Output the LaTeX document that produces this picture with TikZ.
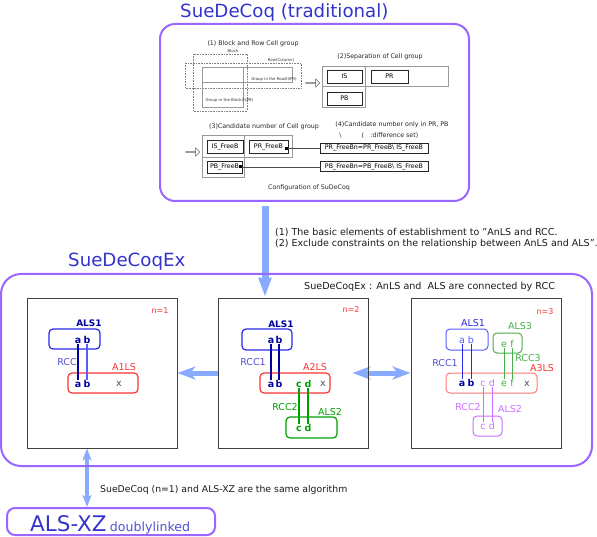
\documentclass[tikz,border=0pt]{standalone}
\usepackage{fontspec}
\setmainfont{DejaVu Sans}
\usetikzlibrary{arrows.meta,shapes.arrows,backgrounds}

\definecolor{tituloazul}{RGB}{51,51,204}
\definecolor{moldura}{RGB}{153,102,255}
\definecolor{setaazul}{RGB}{136,170,255}
\definecolor{azulals}{RGB}{40,40,230}
\definecolor{azulesc}{RGB}{0,0,160}
\definecolor{azulclaro}{RGB}{90,90,255}
\definecolor{azulrcc}{RGB}{80,80,210}
\definecolor{vermelho}{RGB}{255,50,50}
\definecolor{rosado}{RGB}{255,120,120}
\definecolor{verde}{RGB}{0,160,0}
\definecolor{verdeclaro}{RGB}{70,175,70}
\definecolor{violeta}{RGB}{204,110,255}
\definecolor{cinzax}{RGB}{80,80,80}

\newcommand{\fsz}[1]{\fontsize{#1}{#1}\selectfont}

\begin{document}
\begin{tikzpicture}[x=1pt, y=-1pt,
    titulo/.style={inner sep=0pt, text=tituloazul, font=\fsz{18.2}},
    moldurabox/.style={draw=moldura, line width=2pt, rounded corners=#1, inner sep=0pt},
    painel/.style={draw=black!75, line width=0.8pt, minimum width=150pt, minimum height=150pt, inner sep=0pt},
    lsbox/.style={rounded corners=4pt, line width=1.2pt, inner sep=0pt},
    letra/.style={inner sep=0.5pt, text height=6.5pt, text depth=0pt, font=\fsz{9.5}},
    rotulo/.style={inner sep=0pt, font=\fsz{9.5}},
    texto/.style={inner sep=0pt, font=\fsz{9.4}, text=black!90},
    textopeq/.style={inner sep=0pt, font=\fsz{6.3}, text=black!85},
    minusculo/.style={inner sep=0pt, font=\fsz{3.9}, text=black!80},
    celula/.style={draw=black!85, line width=0.7pt, fill=white, inner sep=0pt, font=\fsz{6.3}},
    grupo/.style={draw=black!40, line width=0.7pt},
    pontilhado/.style={draw=black!50, densely dotted, line width=0.6pt},
    setaoca/.style={single arrow, draw=black!60, line width=0.5pt, minimum height=14pt, minimum width=8pt, single arrow head extend=2pt, inner sep=0pt},
    setagrande/.style={setaazul, line width=7pt, -{Triangle[length=20pt,width=12pt]}},
    setadupla/.style={setaazul, line width=5pt, {Stealth[length=18pt,width=13pt,inset=5pt]}-{Stealth[length=18pt,width=13pt,inset=5pt]}},
    setasimples/.style={setaazul, line width=5pt, -{Stealth[length=18pt,width=13pt,inset=5pt]}},
    setavert/.style={setaazul, line width=4pt, {Stealth[length=12pt,width=9pt,inset=3pt]}-{Stealth[length=12pt,width=9pt,inset=3pt]}}]
    \useasboundingbox (0,0) rectangle (597,537);

    % Título superior
    \node[titulo, anchor=base west] (tit1) at (180,17.5) {SueDeCoq (traditional)};
    \node[moldurabox=15pt, minimum width=309pt, minimum height=177pt] (trad) at (314.5,112.5) {};

    % (1) Grupos de células
    \node[textopeq] (t1) at (253,44) {(1) Block and Row Cell group};
    \node[minusculo] (tblk) at (233,51) {Block};
    \draw[pontilhado] (193,54) rectangle (247,111);
    \draw[pontilhado] (185,63) rectangle (301,88);
    \node[minusculo] (trow) at (281,60) {Row(Column)};
    \draw[grupo] (202,67) rectangle (292,82);
    \draw[grupo] (202,67) rectangle (243,107);
    \node[minusculo] (tispr) at (274,79) {Group in the Row(ISPR)};
    \node[minusculo] (tispb) at (229.5,100) {Group in the Block(ISPB)};
    \node[setaoca] (s1) at (312.5,83) {};

    % (2) Separação
    \node[textopeq] (t2) at (380,57) {(2)Separation of Cell group};
    \draw[grupo] (322,66) rectangle (448,86);
    \draw[grupo] (322,66) rectangle (365,107);
    \node[celula, minimum width=35pt, minimum height=13pt] (is) at (344.5,76.5) {IS};
    \node[celula, minimum width=37pt, minimum height=13pt] (pr) at (389.5,76.5) {PR};
    \node[celula, minimum width=35pt, minimum height=13pt] (pb) at (344.5,98.5) {PB};

    % (3) e (4) Candidatos
    \node[textopeq] (t3) at (264,127) {(3)Candidate number of Cell group};
    \node[textopeq] (t4) at (392,125) {(4)Candidate number only in PR, PB};
    \node[textopeq] (t4b) at (390,136) {(\quad:difference set)};
    \node[textopeq] (barra) at (340.5,135.5) {\textbackslash};
    \node[setaoca] (s2) at (192.5,152) {};
    \draw[grupo] (202,135) rectangle (292,157);
    \draw[grupo] (202,135) rectangle (244,177);
    \node[celula, minimum width=36pt, minimum height=13pt] (isf) at (225,146.5) {IS\_FreeB};
    \node[celula, minimum width=39pt, minimum height=13pt] (prf) at (268.5,146.5) {PR\_FreeB};
    \node[celula, minimum width=35pt, minimum height=12pt] (pbf) at (224.5,167) {PB\_FreeB};
    \node[celula, minimum width=108pt, minimum height=10pt] (prn) at (374,148) {PR\_FreeBn=PR\_FreeB\textbackslash\ IS\_FreeB};
    \node[celula, minimum width=108pt, minimum height=10pt] (pbn) at (374,166.5) {PB\_FreeBn=PB\_FreeB\textbackslash\ IS\_FreeB};
    \node[fill=black, minimum size=3pt, inner sep=0pt, anchor=east] (prq) at ([yshift=-2pt]prf.east) {};
    \node[fill=black, minimum size=3pt, inner sep=0pt, anchor=east] (pbq) at (pbf.east) {};
    \draw[black!70, line width=0.6pt] (prq.east) -- (prq.east -| prn.west);
    \draw[black!70, line width=0.6pt] (pbq.east) -- (pbq.east -| pbn.west);
    \node[textopeq] (conf) at (309,188) {Configuration of SuDeCoq};

    % Texto da seta
    \node[texto, anchor=west, align=left, font=\fontsize{9.5}{11}\selectfont] (txt1) at (275,238.5) {(1) The basic elements of establishment to ”AnLS and RCC.\\(2) Exclude constraints on the relationship between AnLS and ALS”.};

    % SueDeCoqEx
    \node[titulo, anchor=base west] (tit2) at (68,267) {SueDeCoqEx};
    \node[moldurabox=20pt, minimum width=591pt, minimum height=192pt] (ex) at (296.5,370) {};
    \node[texto, anchor=west, font=\fsz{9.6}] (txt2) at (304,287) {SueDeCoqEx : AnLS and~ ALS are connected by RCC};
    \node[painel] (p1) at (102,373) {};
    \node[painel] (p2) at (293,373) {};
    \node[painel] (p3) at (486,373) {};

    % Painel n=1
    \node[rotulo, text=vermelho, font=\fsz{8}] (n1) at (160,310.5) {n=1};
    \node[rotulo, text=azulesc, font=\bfseries\fsz{9}] (p1l1) at (89,323) {ALS1};
    \node[lsbox, draw=azulals, minimum width=51pt, minimum height=20pt] (p1b1) at (74.5,339) {};
    \node[letra, text=azulesc, font=\bfseries\fsz{9.5}] (p1ua) at (78,340) {a};
    \node[letra, text=azulesc, font=\bfseries\fsz{9.5}] (p1ub) at (87,340) {b};
    \node[rotulo, text=azulrcc] (p1rcc) at (67,362) {RCC};
    \node[rotulo, text=vermelho] (p1l2) at (124,367) {A1LS};
    \node[lsbox, draw=vermelho, minimum width=70pt, minimum height=20pt] (p1b2) at (103,383) {};
    \node[letra, text=azulesc, font=\bfseries\fsz{9.5}] (p1la) at (78,384) {a};
    \node[letra, text=azulesc, font=\bfseries\fsz{9.5}] (p1lb) at (87,384) {b};
    \node[letra, text=cinzax] (p1lx) at (119,383) {x};
    \draw[azulesc, line width=1.3pt] (p1ua) -- (p1la);
    \draw[azulclaro, line width=2pt] (p1ub) -- (p1lb);

    % Painel n=2
    \node[rotulo, text=vermelho, font=\fsz{8}] (n2) at (351,310) {n=2};
    \node[rotulo, text=azulesc, font=\bfseries\fsz{9}] (p2l1) at (281,324) {ALS1};
    \node[lsbox, draw=azulals, minimum width=50pt, minimum height=21pt] (p2b1) at (267,339.5) {};
    \node[letra, text=azulesc, font=\bfseries\fsz{9.5}] (p2ua) at (271,340) {a};
    \node[letra, text=azulesc, font=\bfseries\fsz{9.5}] (p2ub) at (279,340) {b};
    \node[rotulo, text=azulrcc] (p2rcc1) at (253,362) {RCC1};
    \node[rotulo, text=vermelho] (p2l2) at (315,367) {A2LS};
    \node[lsbox, draw=vermelho, minimum width=70pt, minimum height=20pt] (p2b2) at (295,383) {};
    \node[letra, text=azulesc, font=\bfseries\fsz{9.5}] (p2la) at (271,384) {a};
    \node[letra, text=azulesc, font=\bfseries\fsz{9.5}] (p2lb) at (279,384) {b};
    \node[letra, text=verde, font=\bfseries\fsz{9.5}] (p2lc) at (299,384) {c};
    \node[letra, text=verde, font=\bfseries\fsz{9.5}] (p2ld) at (308,384) {d};
    \node[letra, text=cinzax] (p2lx) at (323,383) {x};
    \node[rotulo, text=verde] (p2rcc2) at (285,407) {RCC2};
    \node[rotulo, text=verde] (p2l3) at (330,412) {ALS2};
    \node[lsbox, draw=verde, minimum width=51pt, minimum height=21pt] (p2b3) at (311.5,427.5) {};
    \node[letra, text=verde, font=\bfseries\fsz{9.5}] (p2dc) at (299,428) {c};
    \node[letra, text=verde, font=\bfseries\fsz{9.5}] (p2dd) at (308,428) {d};
    \draw[azulesc, line width=1.6pt] (p2ua) -- (p2la);
    \draw[azulesc, line width=1.6pt] (p2ub) -- (p2lb);
    \draw[verde, line width=1.6pt] (p2lc) -- (p2dc);
    \draw[verde, line width=1.6pt] (p2ld) -- (p2dd);

    % Painel n=3
    \node[rotulo, text=vermelho, font=\fsz{8}] (n3) at (545,312) {n=3};
    \node[rotulo, text=azulals] (p3l1) at (473,323) {ALS1};
    \node[lsbox, draw=azulclaro, line width=1pt, minimum width=42pt, minimum height=21pt] (p3b1) at (467,339.5) {};
    \node[letra, text=azulclaro] (p3ua) at (462,340) {a};
    \node[letra, text=azulclaro] (p3ub) at (471,340) {b};
    \node[rotulo, text=verdeclaro] (p3l3) at (520,326) {ALS3};
    \node[lsbox, draw=verdeclaro, line width=1pt, minimum width=29pt, minimum height=20pt] (p3b3) at (507.5,343) {};
    \node[letra, text=verdeclaro] (p3ue) at (504,344) {e};
    \node[letra, text=verdeclaro] (p3uf) at (512,344) {f};
    \node[rotulo, text=azulrcc] (p3rcc1) at (445,363) {RCC1};
    \node[rotulo, text=verdeclaro] (p3rcc3) at (528,358) {RCC3};
    \node[rotulo, text=vermelho] (p3l2) at (542,368) {A3LS};
    \node[lsbox, draw=rosado, line width=1pt, minimum width=91pt, minimum height=20pt] (p3b2) at (491.5,383) {};
    \node[letra, text=azulesc, font=\bfseries\fsz{9.5}] (p3la) at (462,383) {a};
    \node[letra, text=azulesc, font=\bfseries\fsz{9.5}] (p3lb) at (471,383) {b};
    \node[letra, text=violeta] (p3lc) at (483,383) {c};
    \node[letra, text=violeta] (p3ld) at (492,383) {d};
    \node[letra, text=verdeclaro] (p3le) at (504,383) {e};
    \node[letra, text=verdeclaro] (p3lf) at (512,383) {f};
    \node[letra, text=cinzax] (p3lx) at (527,383) {x};
    \node[rotulo, text=violeta] (p3rcc2) at (468,407) {RCC2};
    \node[rotulo, text=violeta] (p3l4) at (510,409) {ALS2};
    \node[lsbox, draw=violeta, line width=1pt, minimum width=29pt, minimum height=20pt] (p3b4) at (487.5,426) {};
    \node[letra, text=violeta] (p3dc) at (483,426) {c};
    \node[letra, text=violeta] (p3dd) at (492,426) {d};
    \draw[azulals, line width=1pt] (p3ua) -- (p3la);
    \draw[azulals, line width=1pt] (p3ub) -- (p3lb);
    \draw[verdeclaro, line width=1pt] (p3ue) -- (p3le);
    \draw[verdeclaro, line width=1pt] (p3uf) -- (p3lf);
    \draw[violeta, line width=1pt] (p3lc) -- (p3dc);
    \draw[violeta, line width=1pt] (p3ld) -- (p3dd);

    % ALS-XZ
    \node[moldurabox=8pt, minimum width=208pt, minimum height=27pt] (alsxz) at (111,521.5) {};
    \node[inner sep=0pt, anchor=base west] (alsxzt) at (30,531) {{\color{tituloazul}\fsz{21.5}ALS-XZ} {\color{azulrcc}\fsz{12.6}doublylinked}};
    \node[texto, anchor=west, font=\fsz{9.3}] (txt3) at (100,490) {SueDeCoq (n=1) and ALS-XZ are the same algorithm};

    % Setas
    \coordinate (eixo) at (265,0);
    \coordinate (eixob) at (87,0);
    \begin{scope}[on background layer]
        \draw[setagrande, shorten <=4pt] (trad.south -| eixo) -- (eixo |- p2.north);
        \draw[setasimples] (p2.west) -- (p1.east);
        \draw[setadupla] ([xshift=-16pt]p2.east) -- (p3.west);
        \draw[setavert] (p1.south -| eixob) -- (eixob |- alsxz.north);
    \end{scope}
\end{tikzpicture}
\end{document}
